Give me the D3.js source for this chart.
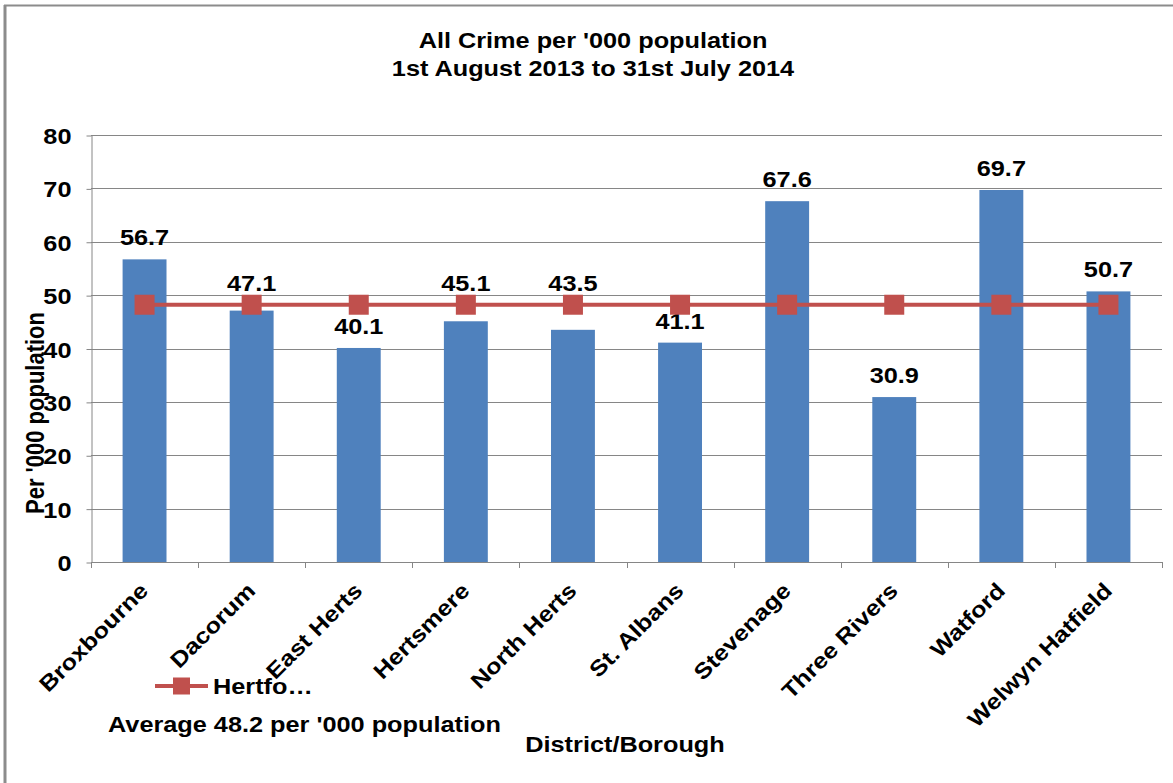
<!DOCTYPE html>
<html lang="en">
<head>
    <meta charset="UTF-8">
    <title>All Crime per '000 population</title>
    <script src="https://d3js.org/d3.v7.min.js"></script>
    <style>
        body { margin: 0; background: white; }
        text { font-family: "Liberation Sans", Arial, sans-serif; font-weight: bold; fill: #000; }
    </style>
</head>
<body>
    <svg id="svg1" width="1173" height="783" style="background: white"></svg>

    <script>
        // data ------------------------------------------------------------------------
        const districts = ["Broxbourne", "Dacorum", "East Herts", "Hertsmere", "North Herts",
                           "St. Albans", "Stevenage", "Three Rivers", "Watford", "Welwyn Hatfield"];
        const crimeRates = [56.7, 47.1, 40.1, 45.1, 43.5, 41.1, 67.6, 30.9, 69.7, 50.7];
        const hertsAverage = [48.2, 48.2, 48.2, 48.2, 48.2, 48.2, 48.2, 48.2, 48.2, 48.2];
        const yTicks = [0, 10, 20, 30, 40, 50, 60, 70, 80];
        const titleLines = ["All Crime per '000 population", "1st August 2013 to 31st July 2014"];

        // layout ----------------------------------------------------------------------
        const svg = d3.select("svg#svg1");
        const plot = {left: 91, right: 1162, top: 135, bottom: 562};
        const sx = 1.15;          // text looks a bit wide in the original
        const fontSize = 22;
        const gridColor = "#868686";
        const barColor = "#4F81BD";
        const lineColor = "#C0504D";

        const x = d3.scaleBand().domain(districts).range([plot.left, plot.right])
                    .paddingInner(0.59).paddingOuter(0.295);
        const y = d3.scaleLinear().domain([0, 80]).range([plot.bottom, plot.top]);
        const cx = d => x(d) + x.bandwidth() / 2;

        // small helper for the stretched text
        function label(g, str, tx, ty, anchor, rot) {
            return g.append("text")
                .text(str)
                .attr("font-size", fontSize)
                .attr("text-anchor", anchor)
                .attr("transform", `translate(${tx},${ty})` + (rot ? ` rotate(${rot})` : "") + ` scale(${sx},1)`);
        }

        // frame border (left and top only)
        svg.append("line").attr("x1", 5).attr("x2", 5).attr("y1", 5).attr("y2", 783)
            .attr("stroke", "#8c8c8c").attr("stroke-width", 3);
        svg.append("line").attr("x1", 4).attr("x2", 1173).attr("y1", 5.5).attr("y2", 5.5)
            .attr("stroke", "#8c8c8c").attr("stroke-width", 2);

        // title
        label(svg, titleLines[0], 593, 48, "middle");
        label(svg, titleLines[1], 593, 76, "middle");

        // gridlines
        svg.append("g").selectAll("line")
            .data(yTicks.filter(d => d > 0))
            .join("line")
            .attr("x1", plot.left).attr("x2", plot.right)
            .attr("y1", d => Math.round(y(d)) + 0.5).attr("y2", d => Math.round(y(d)) + 0.5)
            .attr("stroke", gridColor);

        // y axis
        const yAxis = svg.append("g")
            .attr("transform", `translate(${plot.left + 0.5},0.5)`)
            .call(d3.axisLeft(y).tickValues(yTicks).tickSize(5).tickSizeOuter(0));
        yAxis.select(".domain").attr("stroke", gridColor);
        yAxis.selectAll(".tick line").attr("stroke", gridColor);
        yAxis.selectAll(".tick text")
            .attr("x", null).attr("dy", null)
            .attr("font-size", fontSize)
            .attr("font-family", null)
            .attr("fill", "#000")
            .attr("transform", `translate(-20,8) scale(${sx},1)`);

        // x axis line + ticks at category boundaries
        svg.append("line")
            .attr("x1", plot.left).attr("x2", plot.right)
            .attr("y1", plot.bottom + 0.5).attr("y2", plot.bottom + 0.5)
            .attr("stroke", gridColor);
        const step = x.step();
        svg.append("g").selectAll("line")
            .data(districts.concat(["end"]))
            .join("line")
            .attr("x1", (d, i) => Math.round(plot.left + i * step) + 0.5)
            .attr("x2", (d, i) => Math.round(plot.left + i * step) + 0.5)
            .attr("y1", plot.bottom).attr("y2", plot.bottom + 6)
            .attr("stroke", gridColor);

        // bars
        svg.append("g").selectAll("rect")
            .data(crimeRates)
            .join("rect")
            .attr("x", (d, i) => x(districts[i]))
            .attr("y", d => y(d))
            .attr("width", x.bandwidth())
            .attr("height", d => y(0) - y(d))
            .attr("fill", barColor);

        // value labels - the ones just under the average line sit above it instead
        const valueLabels = svg.append("g");
        crimeRates.forEach((v, i) => {
            const avg = hertsAverage[i];
            let ty = y(v) - 14;
            if (v < avg && avg - v < 6) ty = y(avg) - 14;
            label(valueLabels, v.toFixed(1), cx(districts[i]), ty, "middle");
        });

        // average line with square markers
        const line = d3.line().x((d, i) => cx(districts[i])).y(d => y(d));
        svg.append("path")
            .datum(hertsAverage)
            .attr("d", line)
            .attr("fill", "none")
            .attr("stroke", lineColor)
            .attr("stroke-width", 4);
        svg.append("g").selectAll("rect")
            .data(hertsAverage)
            .join("rect")
            .attr("x", (d, i) => cx(districts[i]) - 10)
            .attr("y", d => y(d) - 10)
            .attr("width", 20).attr("height", 20)
            .attr("fill", lineColor);

        // category labels
        const catLabels = svg.append("g");
        districts.forEach(d => {
            label(catLabels, d, cx(d) + 5, plot.bottom + 30, "end", -45);
        });

        // legend
        svg.append("line").attr("x1", 155).attr("x2", 208).attr("y1", 686).attr("y2", 686)
            .attr("stroke", lineColor).attr("stroke-width", 4);
        svg.append("rect").attr("x", 173).attr("y", 677.5).attr("width", 17).attr("height", 17)
            .attr("fill", lineColor);
        label(svg, "Hertfo…", 213, 694, "start");

        // notes / axis titles
        label(svg, "Average 48.2 per '000 population", 108, 732, "start");
        label(svg, "District/Borough", 625, 752, "middle");
        svg.append("text")
            .text("Per '000 population")
            .attr("font-size", fontSize)
            .attr("text-anchor", "middle")
            .attr("transform", `translate(44,413) scale(${sx},1) rotate(-90)`);
    </script>
</body>
</html>
